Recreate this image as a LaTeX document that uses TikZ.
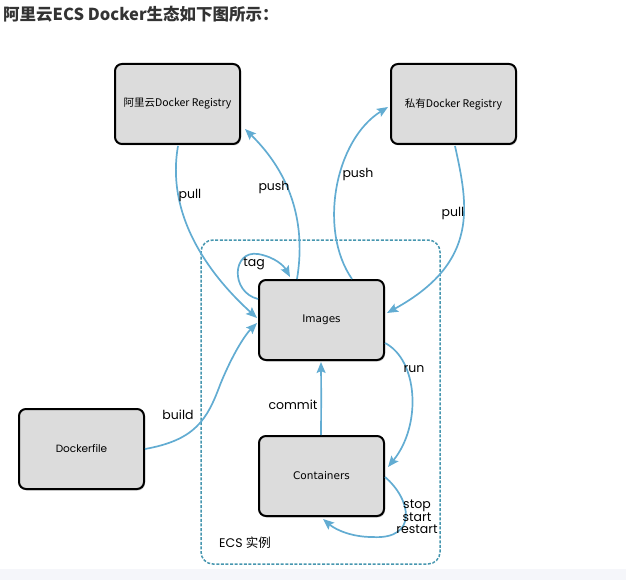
\documentclass[tikz,border=0pt]{standalone}
\usepackage{fontspec}
\setmainfont{Poppins}
\newfontfamily\cjk{Noto Sans CJK SC}
\newfontfamily\lucida{DejaVu Sans}
\usetikzlibrary{arrows.meta,shadows}
\definecolor{arr}{RGB}{98,172,210}
\definecolor{ecsdash}{RGB}{70,150,175}
\definecolor{boxfill}{RGB}{220,220,220}
\definecolor{band}{RGB}{245,246,250}
\definecolor{titlecol}{RGB}{51,51,51}
\tikzset{
  box/.style={draw=black, line width=2pt, rounded corners=7pt, fill=boxfill,
    minimum width=125pt, minimum height=80pt, inner sep=0pt,
    drop shadow={opacity=0.35, shadow xshift=1pt, shadow yshift=-1.5pt},
    font=\fontsize{10.5}{12}\selectfont},
  flow/.style={draw=arr, line width=1.7pt, -{Stealth[length=11pt,width=9pt,inset=2pt]}},
  lbl/.style={font=\fontsize{12.5}{14}\selectfont, inner sep=0pt},
}
\begin{document}
\begin{tikzpicture}[x=1pt,y=-1pt]
\useasboundingbox (0,0) rectangle (626,580);
\fill[band] (0,569) rectangle (626,580);
\node[anchor=west, inner sep=0pt, text=titlecol, font=\cjk\bfseries\fontsize{16.5}{18}\selectfont] (t) at (3,14) {阿里云ECS Docker生态如下图所示：};

\draw[draw=ecsdash, line width=1.5pt, dash pattern=on 3pt off 1.6pt, rounded corners=12pt] (201,240) rectangle (440,564);

\node[box] (reg1) at (177.5,104) {{\cjk 阿里云Docker Registry}};
\node[box] (reg2) at (453.5,104) {{\cjk 私有Docker Registry}};
\node[box] (img) at (321.5,320) {\raisebox{-2pt}{\lucida Images}};
\node[box] (cont) at (321.5,476) {\lucida Containers};
\node[box] (dock) at (81.5,449) {Dockerfile};

\coordinate (reg1s) at (178,146);
\coordinate (reg1e) at (245,129);
\coordinate (reg2w) at (388,107);
\coordinate (reg2s) at (455,146);
\coordinate (imgw1) at (257,318);
\coordinate (imgw2) at (257,323);
\coordinate (imgn1) at (297,279);
\coordinate (imgn2) at (352,279);
\coordinate (imge1) at (387,313);
\coordinate (imge2) at (385,343);
\coordinate (imgs) at (321,362);
\coordinate (imgtag) at (258,299);
\coordinate (imgtagin) at (290,277);
\coordinate (contn) at (321,435);
\coordinate (conte1) at (388,467);
\coordinate (conte2) at (385,477);
\coordinate (conts) at (323,519);

\draw[flow] (reg1s) .. controls (165,220) and (215,280) .. (imgw1);
\draw[flow] (imgn1) .. controls (306,225) and (292,175) .. (reg1e);
\draw[flow] (imgn2) .. controls (318,230) and (335,140) .. (reg2w);
\draw[flow] (reg2s) .. controls (468,205) and (480,262) .. (imge1);
\draw[flow] (imgtag) .. controls (230,292) and (232,250) .. (258,254) .. controls (275,257) and (284,266) .. (imgtagin);
\draw[flow] (dock.east) .. controls (195,440) and (207,420) .. (220,385) .. controls (230,360) and (243,337) .. (imgw2);
\draw[flow] (contn) .. controls (321.2,410) and (321.2,390) .. (imgs);
\draw[flow] (imge2) .. controls (418,360) and (422,425) .. (conte1);
\draw[flow] (conte2) .. controls (412,500) and (418,540) .. (372,537) .. controls (352,537) and (336,530) .. (conts);

\node[lbl] (l1) at (190,196) {pull};
\node[lbl] (l2) at (274,187) {push};
\node[lbl] (l3) at (358,175) {push};
\node[lbl] (l4) at (453,213) {pull};
\node[lbl] (l5) at (254,264) {tag};
\node[lbl] (l6) at (178,415) {build};
\node[lbl] (l7) at (293,405) {commit};
\node[lbl] (l8) at (414,369) {run};
\node[lbl, align=center, font=\fontsize{12.5}{12.5}\selectfont] (l9) at (417,517) {stop\\start\\restart};
\node[lbl, anchor=west] (l10) at (219,543) {ECS {\cjk 实例}};
\end{tikzpicture}
\end{document}
